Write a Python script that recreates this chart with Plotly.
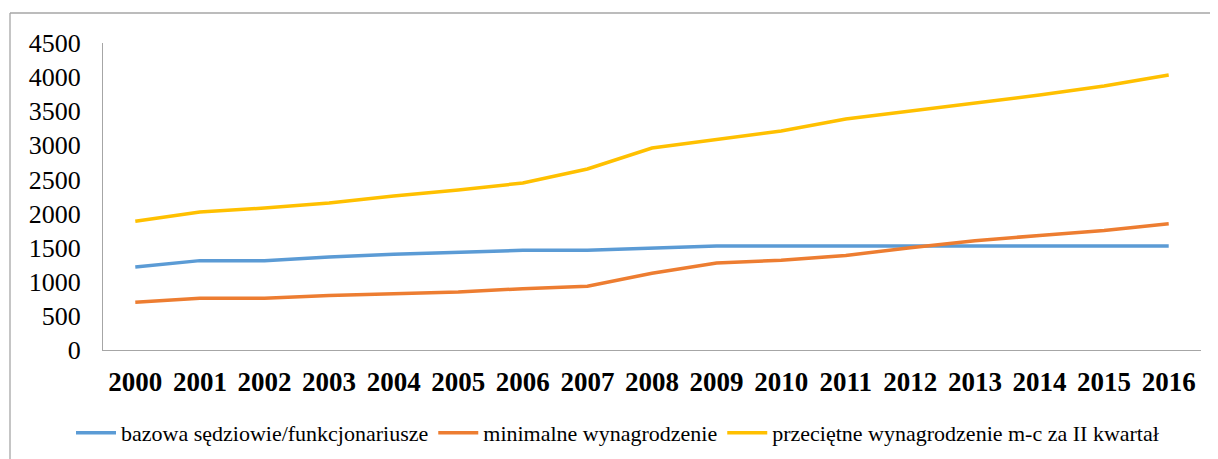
import plotly.graph_objects as go

years = [str(y) for y in range(2000, 2017)]
bazowa = [1218, 1310, 1310, 1364, 1403, 1433, 1461, 1461, 1489, 1523,
          1523, 1523, 1523, 1523, 1523, 1523, 1523]
minimalne = [700, 760, 760, 800, 824, 849, 899, 936, 1126, 1276,
             1317, 1386, 1500, 1600, 1680, 1750, 1850]
przecietne = [1886, 2023, 2081, 2155, 2257, 2345, 2448, 2653, 2961, 3092,
              3210, 3386, 3503, 3620, 3738, 3870, 4031]

names = ["bazowa sędziowie/funkcjonariusze", "minimalne wynagrodzenie",
         "przeciętne wynagrodzenie m-c za II kwartał"]
colors = ["#5B9BD5", "#ED7D31", "#FFC000"]

fig = go.Figure()
for name, vals, col in zip(names, [bazowa, minimalne, przecietne], colors):
    fig.add_trace(go.Scatter(x=years, y=vals, name=name, mode="lines",
                             line=dict(color=col, width=3.5)))

OFF = 8  # default page body margin
L, R, T, B = 103 - OFF, 1201 - OFF, 43 - OFF, 350 - OFF
W, H = 1218, 459
pw, ph = R - L, B - T

def px(x):
    return (x - OFF - L) / pw

def py(y):
    return (B - (y - OFF)) / ph

SERIF = "Liberation Serif, Times New Roman, serif"

fig.update_layout(
    width=W, height=H, autosize=False,
    margin=dict(l=L, r=W - R, t=T, b=H - B, autoexpand=False),
    paper_bgcolor="white", plot_bgcolor="white",
    font=dict(family=SERIF, color="black"),
    showlegend=True,
    legend=dict(orientation="h", x=px(71), xanchor="left", y=py(433), yanchor="middle",
                font=dict(size=22, family=SERIF),
                itemwidth=40, tracegroupgap=0),
    xaxis=dict(type="category", range=[-0.5, 16.5], showgrid=False,
               showline=True, linecolor="#A6A6A6", linewidth=1.3,
               ticks="", tickfont=dict(size=27, family=SERIF, color="black",
                                      weight="bold"),
               ticklabelstandoff=7, zeroline=False),
    yaxis=dict(range=[0, 4500], dtick=500, showgrid=False,
               showline=True, linecolor="#A6A6A6", linewidth=1.3,
               ticks="", tickfont=dict(size=26, family=SERIF, color="black"),
               ticklabelstandoff=16, zeroline=False),
    shapes=[
        dict(type="line", xref="paper", yref="paper", x0=px(10), x1=px(1230),
             y0=py(13), y1=py(13), line=dict(color="#A6A6A6", width=1.3)),
        dict(type="line", xref="paper", yref="paper", x0=px(10), x1=px(10),
             y0=py(13), y1=py(475), line=dict(color="#A6A6A6", width=1.3)),
    ],
)

fig.write_html("out.html")
